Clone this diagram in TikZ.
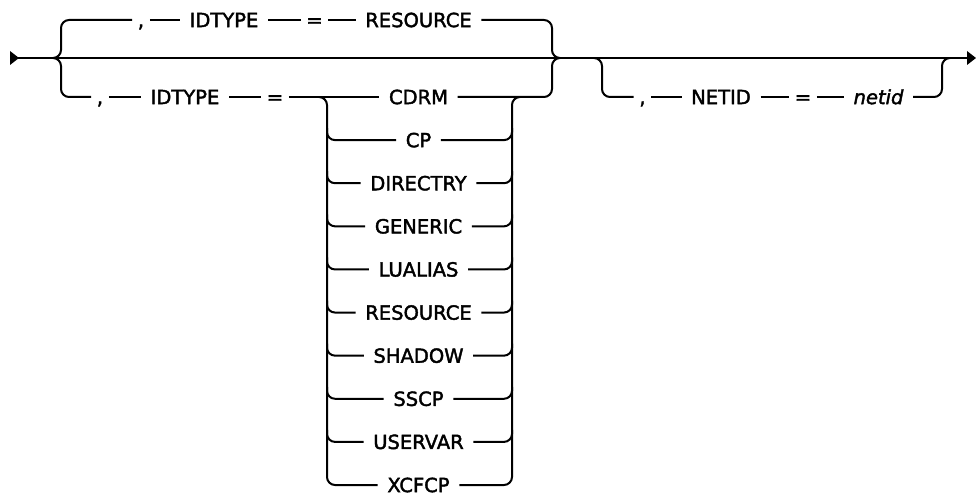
\documentclass[tikz,border=0pt]{standalone}
\usepackage{fontspec}
\setmainfont{DejaVu Sans}[FakeBold=2]
\usetikzlibrary{calc}
\begin{document}
\begin{tikzpicture}[x=1pt,y=-1pt,
  rail/.style={line width=2pt, rounded corners=8pt},
  kw/.style={font=\fontsize{19.5}{22}\selectfont, text height=14.2pt, text depth=0pt,
             inner ysep=0pt, inner xsep=9.5pt, anchor=center},
  punct/.style={kw, inner xsep=5.5pt},
  var/.style={kw, font=\fontsize{19.5}{22}\selectfont\itshape}]
\useasboundingbox (0,0) rectangle (976,497);

% main line with start and end arrowheads
\coordinate (start) at (10,58);
\coordinate (end) at (976,58);
\fill ($(start)+(0,-7)$) -- ($(start)+(9,0)$) -- ($(start)+(0,7)$) -- cycle;
\fill ($(end)+(-9,-7)$) -- (end) -- ($(end)+(-9,7)$) -- cycle;
\draw[rail] ($(start)+(8,0)$) -- ($(end)+(-8,0)$);

% junction points
\coordinate (lb) at (53,58);
\coordinate (rb) at (560,58);
\coordinate (sl) at (327,97);
\coordinate (sr) at (512,97);
\coordinate (nl) at (594,58);
\coordinate (nr) at (950,58);

% top branch
\node[punct] (c1) at (141,20) {,};
\node[kw] (id1) at (224,20) {IDTYPE};
\node[punct] (eq1) at (314.5,20) {=};
\node[kw] (res1) at (418.5,20) {RESOURCE};
\draw[rail] (lb) -- ++(8,0) |- (c1.west);
\draw[rail] (c1.east) -- (id1.west);
\draw[rail] (id1.east) -- (eq1.west);
\draw[rail] (eq1.east) -- (res1.west);
\draw[rail] (res1.east) -| ([xshift=-8pt]rb) -- (rb);

% bottom branch
\node[punct] (c2) at (100,97) {,};
\node[kw] (id2) at (185,97) {IDTYPE};
\node[punct] (eq2) at (275,97) {=};
\draw[rail] (lb) -- ++(8,0) |- (c2.west);
\draw[rail] (c2.east) -- (id2.west);
\draw[rail] (id2.east) -- (eq2.west);

% stack
\foreach \t [count=\i from 0] in {CDRM,CP,DIRECTRY,GENERIC,LUALIAS,RESOURCE,SHADOW,SSCP,USERVAR,XCFCP}
  \node[kw] (s\i) at (418.5,{97+43.111*\i}) {\t};
\draw[rail] (eq2.east) -- (s0.west);
\draw[rail] (s0.east) -| ([xshift=-8pt]rb) -- (rb);
\draw[rail] ([xshift=-8pt]sl) -- (sl) |- (s9.west);
\draw[rail] (s9.east) -| (sr) -- ++(8,0);
\foreach \i in {1,...,8} {
  \draw[rail] ($(sl |- s\i.west)+(0,-12)$) |- (s\i.west);
  \draw[rail] (s\i.east) -| ($(sr |- s\i.east)+(0,-12)$);
}

% NETID branch
\node[punct] (c3) at (642.5,97) {,};
\node[kw] (nid) at (721,97) {NETID};
\node[punct] (eq3) at (803,97) {=};
\node[var] (nv) at (878.5,97) {netid};
\draw[rail] (nl) -- ++(8,0) |- (c3.west);
\draw[rail] (c3.east) -- (nid.west);
\draw[rail] (nid.east) -- (eq3.west);
\draw[rail] (eq3.east) -- (nv.west);
\draw[rail] (nv.east) -| ([xshift=-8pt]nr) -- (nr);
\end{tikzpicture}
\end{document}
